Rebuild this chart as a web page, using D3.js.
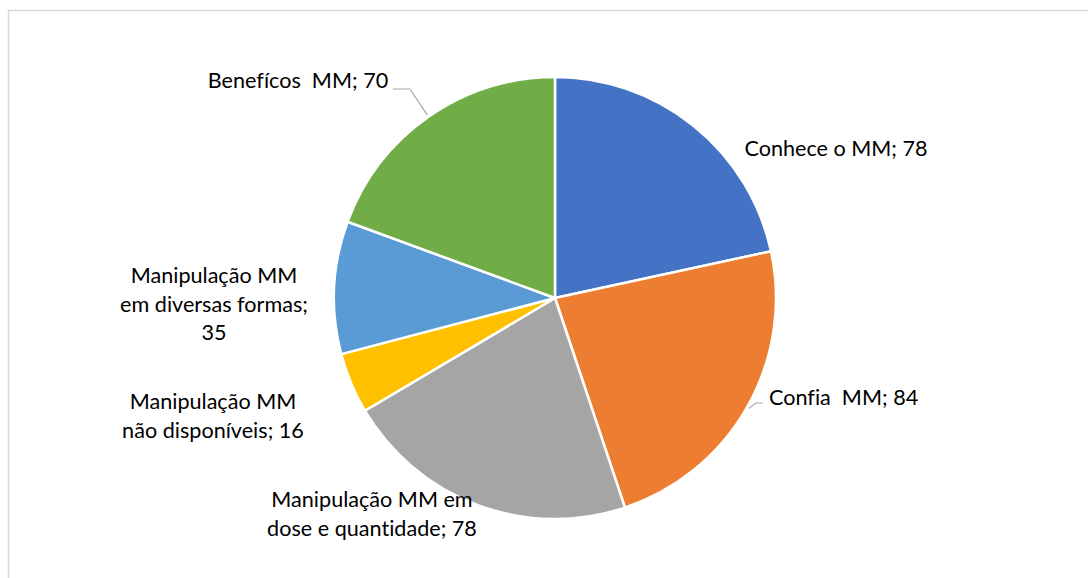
<!DOCTYPE html>
<html>
<head>
<meta charset="utf-8">
<script src="https://cdn.jsdelivr.net/npm/d3@7"></script>
<style>
  html, body { margin: 0; padding: 0; background: #fff; }
  svg { display: block; }
  text {
    font-family: Lato, "Open Sans", sans-serif;
    white-space: pre;
    font-variant-ligatures: none;
    font-feature-settings: "liga" 0;
    fill: #000;
  }
</style>
</head>
<body>
<svg id="chart" width="1088" height="578"></svg>
<script>
// Slice categories, clockwise from 12 o'clock
const categories = [
  "Conhece o MM",
  "Confia  MM",
  "Manipulação MM em dose e quantidade",
  "Manipulação MM não disponíveis",
  "Manipulação MM em diversas formas",
  "Benefícos  MM"
];
const values = [78, 84, 78, 16, 35, 70];
const colors = ["#4472C4", "#ED7D31", "#A5A5A5", "#FFC000", "#5B9BD5", "#70AD47"];

// Label placement: text block centre (x, y), anchor, word indices that
// start a new line, and optional leader-line points on the label side.
const labelLayout = [
  { x: 836, y: 148, anchor: "middle", breaks: [] },
  { x: 769, y: 397, anchor: "start", breaks: [],
    leader: [[756, 403], [763, 403]] },
  { x: 372, y: 514, anchor: "middle", breaks: [3] },
  { x: 213, y: 416, anchor: "middle", breaks: [2] },
  { x: 214, y: 304, anchor: "middle", breaks: [2, 5] },
  { x: 298, y: 80, anchor: "middle", breaks: [],
    leader: [[410, 89], [393, 89]] }
];

const W = 1088, H = 578;
const cx = 555, cy = 298, radius = 221;
const lineHeight = 28.5;
const fontSize = 21.6;

const svg = d3.select("#chart");

// Chart area frame
svg.append("rect")
  .attr("x", 8.5).attr("y", 10.5)
  .attr("width", W + 20).attr("height", H + 20)
  .attr("fill", "none").attr("stroke", "#d9d9d9").attr("stroke-width", 1.5);

const data = categories.map((c, i) => ({ category: c, value: values[i], color: colors[i] }));

const pie = d3.pie().value(d => d.value).sort(null);
const arcs = pie(data);

const arc = d3.arc().innerRadius(0).outerRadius(radius);
const edgeArc = d3.arc().innerRadius(radius + 2).outerRadius(radius + 2);

const g = svg.append("g").attr("transform", `translate(${cx},${cy})`);

g.selectAll("path.slice")
  .data(arcs)
  .join("path")
  .attr("class", "slice")
  .attr("d", arc)
  .attr("fill", d => d.data.color)
  .attr("stroke", "#fff")
  .attr("stroke-width", 2.5)
  .attr("stroke-linejoin", "round");

// Leader lines from the slice edge to the label
arcs.forEach((a, i) => {
  const L = labelLayout[i];
  if (!L.leader) return;
  const [px, py] = edgeArc.centroid(a);
  const pts = [[cx + px, cy + py], ...L.leader];
  svg.append("path")
    .attr("d", d3.line()(pts))
    .attr("fill", "none")
    .attr("stroke", "#a6a6a6")
    .attr("stroke-width", 1.2);
});

// Split "category; value" into lines at the given word indices
function wrapLabel(text, breaks) {
  const words = text.split(" ");
  const cuts = [0, ...breaks, words.length];
  const out = [];
  for (let k = 0; k < cuts.length - 1; k++) {
    out.push(words.slice(cuts[k], cuts[k + 1]).join(" "));
  }
  return out;
}

// Data labels
arcs.forEach((a, i) => {
  const L = labelLayout[i];
  const lines = wrapLabel(`${a.data.category}; ${a.data.value}`, L.breaks);
  const n = lines.length;
  const t = svg.append("text")
    .attr("text-anchor", L.anchor)
    .attr("font-size", fontSize);
  lines.forEach((ln, k) => {
    t.append("tspan")
      .attr("x", L.x)
      .attr("y", L.y + (k - (n - 1) / 2) * lineHeight)
      .attr("dy", "0.35em")
      .text(ln);
  });
});
</script>
</body>
</html>
